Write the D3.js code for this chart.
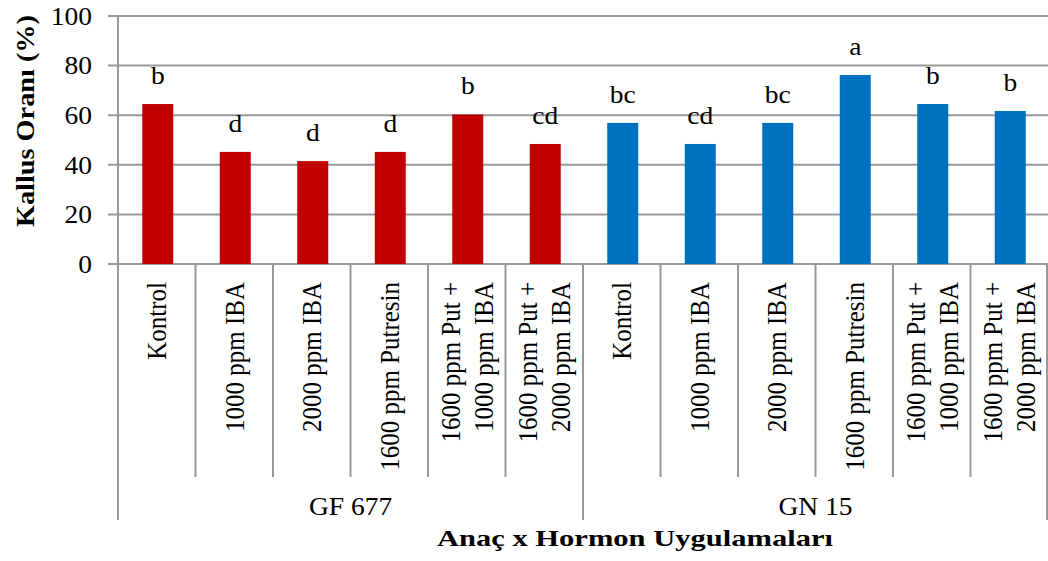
<!DOCTYPE html>
<html lang="tr">
<head>
  <meta charset="utf-8">
  <title>Kallus Oranı</title>
  <script src="https://cdn.jsdelivr.net/npm/d3@7"></script>
  <style>
    body { margin: 0; background: #fff; }
    text { font-family: "Liberation Serif", "Times New Roman", serif; fill: #000; }
  </style>
</head>
<body>
<div id="chart"></div>
<script>
  // data
  var groups = ["GF 677", "GN 15"];
  var treatments = [
    ["Kontrol"],
    ["1000 ppm IBA"],
    ["2000 ppm IBA"],
    ["1600 ppm Putresin"],
    ["1600 ppm Put +", "1000 ppm IBA"],
    ["1600 ppm Put +", "2000 ppm IBA"]
  ];
  var gf677 = [64.5, 45.2, 41.5, 45.2, 60.3, 48.4];
  var gn15 = [56.9, 48.4, 56.9, 76.2, 64.5, 61.7];
  var lettersGF = ["b", "d", "d", "d", "b", "cd"];
  var lettersGN = ["bc", "cd", "bc", "a", "b", "b"];
  var yTicks = [0, 20, 40, 60, 80, 100];
  var colors = { "GF 677": "#C00000", "GN 15": "#0070C0" };

  var W = 1048, H = 561;
  // plot area (note: "top" is taken by window.top, so use plotTop)
  var plotLeft = 118, plotRight = 1048, plotTop = 16, plotBottom = 264;
  var stretch = 1.1; // the original text looks a bit wide
  var gridColor = "#999999";

  var rows = [];
  groups.forEach(function (g, gi) {
    var vals = gi == 0 ? gf677 : gn15;
    var lets = gi == 0 ? lettersGF : lettersGN;
    treatments.forEach(function (t, i) {
      rows.push({ group: g, label: t, value: vals[i], letter: lets[i], id: g + "-" + i });
    });
  });

  var svg = d3.select("#chart").append("svg")
    .attr("width", W)
    .attr("height", H);

  var x = d3.scaleBand()
    .domain(rows.map(function (d) { return d.id; }))
    .range([plotLeft, plotRight])
    .paddingInner(0.6)
    .paddingOuter(0.3);

  var y = d3.scaleLinear()
    .domain([0, 100])
    .range([plotBottom, plotTop]);

  var step = x.step();

  // gridlines (they start at the tick end, left of the axis)
  svg.append("g").selectAll("line")
    .data(yTicks)
    .enter().append("line")
    .attr("x1", plotLeft - 10)
    .attr("x2", plotRight)
    .attr("y1", function (d) { return y(d); })
    .attr("y2", function (d) { return y(d); })
    .attr("stroke", gridColor)
    .attr("stroke-width", 2);

  // y tick labels
  svg.append("g").selectAll("text")
    .data(yTicks)
    .enter().append("text")
    .attr("transform", function (d) { return "translate(92," + y(d) + ") scale(" + stretch + ",1)"; })
    .attr("dy", "0.35em")
    .attr("text-anchor", "end")
    .style("font-size", "25px")
    .text(function (d) { return d; });

  // y axis line
  svg.append("line")
    .attr("x1", plotLeft).attr("x2", plotLeft)
    .attr("y1", y(100)).attr("y2", plotBottom)
    .attr("stroke", gridColor)
    .attr("stroke-width", 2);

  // bars
  svg.append("g").selectAll("rect")
    .data(rows)
    .enter().append("rect")
    .attr("x", function (d) { return x(d.id) + 1; })
    .attr("y", function (d) { return y(d.value); })
    .attr("width", x.bandwidth())
    .attr("height", function (d) { return y(0) - y(d.value); })
    .attr("fill", function (d) { return colors[d.group]; });

  // significance letters
  svg.append("g").selectAll("text")
    .data(rows)
    .enter().append("text")
    .attr("transform", function (d) {
      return "translate(" + (x(d.id) + x.bandwidth() / 2 + 1) + "," + (y(d.value) - 20) + ") scale(" + stretch + ",1)";
    })
    .attr("text-anchor", "middle")
    .style("font-size", "25px")
    .text(function (d) { return d.letter; });

  // category separators (multi level axis)
  var seps = d3.range(rows.length + 1);
  svg.append("g").selectAll("line")
    .data(seps)
    .enter().append("line")
    .attr("x1", function (i) { return Math.min(plotLeft + i * step, W - 1); })
    .attr("x2", function (i) { return Math.min(plotLeft + i * step, W - 1); })
    .attr("y1", plotBottom)
    .attr("y2", function (i) { return i % treatments.length == 0 ? 520 : 477; })
    .attr("stroke", gridColor)
    .attr("stroke-width", 2);

  // rotated category labels
  var lab = svg.append("g").selectAll("text")
    .data(rows)
    .enter().append("text")
    .attr("transform", function (d) {
      return "translate(" + (x(d.id) + x.bandwidth() / 2) + ",282) scale(" + stretch + ",1) rotate(-90)";
    })
    .attr("text-anchor", "end")
    .style("font-size", "25px");

  lab.each(function (d) {
    var t = d3.select(this);
    if (d.label.length == 1) {
      t.append("tspan").attr("x", 0).attr("dy", "0.35em").text(d.label[0]);
    } else {
      t.append("tspan").attr("x", 0).attr("dy", "-0.25em").text(d.label[0]);
      t.append("tspan").attr("x", 0).attr("dy", "1.2em").text(d.label[1]);
    }
  });

  // group labels
  svg.append("g").selectAll("text")
    .data(groups)
    .enter().append("text")
    .attr("transform", function (g, gi) {
      var cx = plotLeft + (gi * treatments.length + treatments.length / 2) * step;
      return "translate(" + cx + ",515) scale(" + stretch + ",1)";
    })
    .attr("text-anchor", "middle")
    .style("font-size", "25px")
    .text(function (g) { return g; });

  // axis titles
  svg.append("text")
    .attr("transform", "translate(635,546)")
    .attr("text-anchor", "middle")
    .attr("textLength", 396)
    .attr("lengthAdjust", "spacingAndGlyphs")
    .style("font-size", "24px")
    .style("font-weight", "bold")
    .text("Anaç x Hormon Uygulamaları");

  svg.append("text")
    .attr("transform", "translate(34,121) rotate(-90)")
    .attr("text-anchor", "middle")
    .attr("textLength", 212)
    .attr("lengthAdjust", "spacingAndGlyphs")
    .style("font-size", "26px")
    .style("font-weight", "bold")
    .text("Kallus Oranı (%)");
</script>
</body>
</html>
